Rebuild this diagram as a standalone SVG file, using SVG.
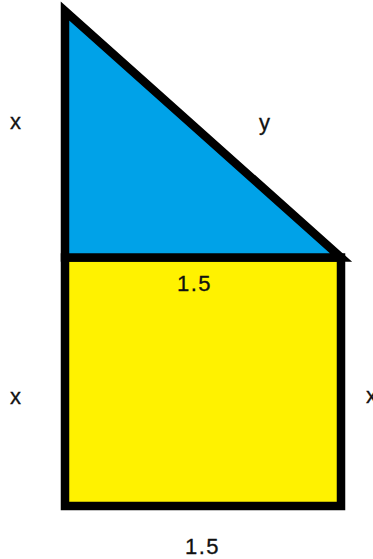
<svg xmlns="http://www.w3.org/2000/svg" width="373" height="559" viewBox="0 0 373 559">
  <style>
    .shape { stroke: #000000; stroke-width: 8.5; stroke-linejoin: miter; stroke-miterlimit: 3; }
    .lbl { font-family: "Liberation Sans", Arial, sans-serif; font-size: 22px; fill: #111111; stroke: #111111; stroke-width: 0.3; }
    .num { letter-spacing: 1.5px; }
  </style>
  <rect width="373" height="559" fill="#ffffff"/>
  <g id="square">
    <rect class="shape" x="65" y="257.5" width="276" height="248.5" fill="#fff200"/>
  </g>
  <g id="triangle">
    <path class="shape" d="M65,11 L65,257.5 L341,257.5 Z" fill="#00a2e8"/>
  </g>
  <g id="labels">
    <text class="lbl" x="10" y="129">x</text>
    <text class="lbl" x="259" y="130">y</text>
    <text class="lbl num" x="177" y="291">1.5</text>
    <text class="lbl" x="10" y="404">x</text>
    <text class="lbl" x="366" y="403">x</text>
    <text class="lbl num" x="185" y="554">1.5</text>
  </g>
</svg>
